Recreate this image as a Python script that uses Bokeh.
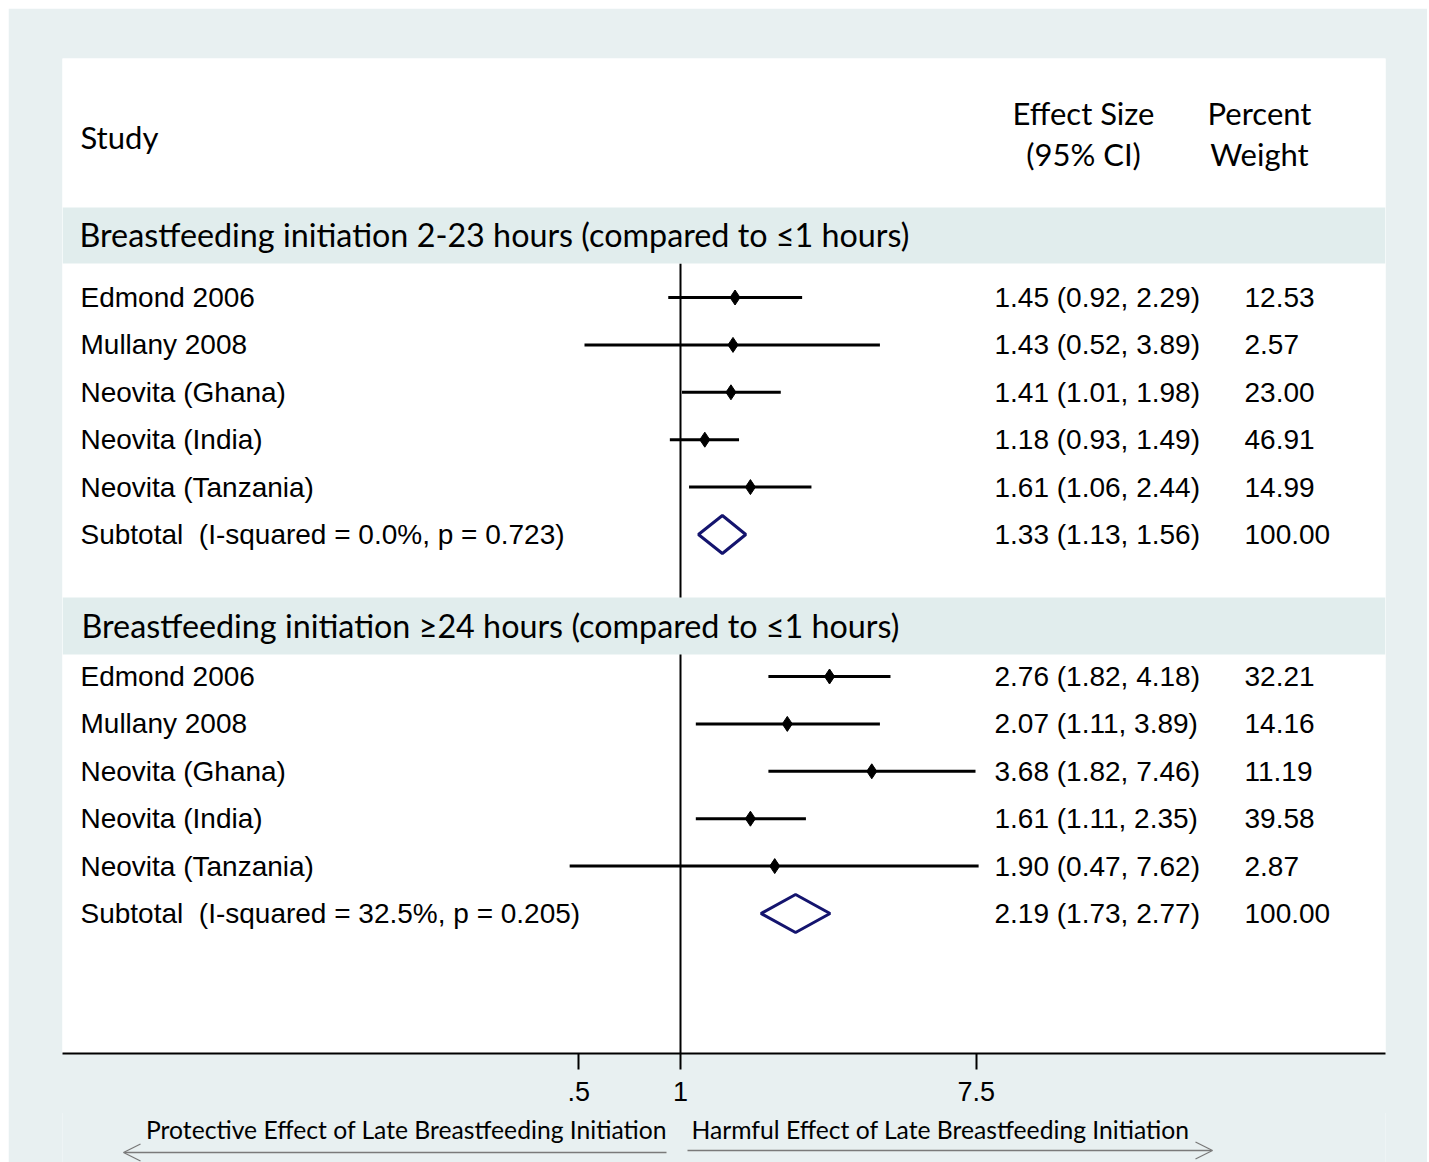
import math
from bokeh.plotting import figure
from bokeh.layouts import column
from bokeh.models import Range1d, FixedTicker, CustomJSTickFormatter, Arrow, OpenHead
from bokeh.core.properties import value
from bokeh.embed import file_html
from bokeh.resources import INLINE

# ---------------- data ----------------
group_titles = ["Breastfeeding initiation 2-23 hours (compared to \u22641 hours)",
                "Breastfeeding initiation \u226524 hours (compared to \u22641 hours)"]
studies = ["Edmond 2006", "Mullany 2008", "Neovita (Ghana)", "Neovita (India)", "Neovita (Tanzania)"]

g1_es = [1.45, 1.43, 1.41, 1.18, 1.61]
g1_lo = [0.92, 0.52, 1.01, 0.93, 1.06]
g1_hi = [2.29, 3.89, 1.98, 1.49, 2.44]
g1_w = [12.53, 2.57, 23.00, 46.91, 14.99]
g1_sub = [1.33, 1.13, 1.56, 100.00]
g1_het = "I-squared = 0.0%, p = 0.723"

g2_es = [2.76, 2.07, 3.68, 1.61, 1.90]
g2_lo = [1.82, 1.11, 1.82, 1.11, 0.47]
g2_hi = [4.18, 3.89, 7.46, 2.35, 7.62]
g2_w = [32.21, 14.16, 11.19, 39.58, 2.87]
g2_sub = [2.19, 1.73, 2.77, 100.00]
g2_het = "I-squared = 32.5%, p = 0.205"

tick_values = [0.5, 1, 7.5]
left_note = "Protective Effect of Late Breastfeeding Initiation"
right_note = "Harmful Effect of Late Breastfeeding Initiation"

# ---------------- layout ----------------
OFF = 8                          # page offset of the figure
W = 1419
ML, MT, MR, MB = 54, 50, 42, 60
FW, FH = W - ML - MR, 995
H = MT + FH + MB
OVER = 1                         # strip overlaps main figure by this many px
H2 = 1162 - (OFF + H) + OVER
PX_LN = 146.8                    # pixels per natural-log unit
X1 = 680 - (OFF + ML)            # frame px where effect = 1
BG = "#e8f0f1"
BAND = "#e1eded"
NAVY = "#14146e"
ARIAL = value("Liberation Sans")
CAL = value("Lato")


def X(px):  # page pixel -> data x on log scale
    return math.exp((px - OFF - ML - X1) / PX_LN)


def Y(py):  # page pixel -> data y
    return (OFF + MT + FH) - py


p = figure(width=W, height=H, x_axis_type="log", output_backend="svg",
           toolbar_location=None, y_axis_location=None,
           x_range=Range1d(X(OFF + ML), X(OFF + ML + FW)), y_range=Range1d(0, FH),
           min_border_left=ML, min_border_right=MR, min_border_top=MT, min_border_bottom=MB)
p.margin = (OFF, 0, 0, OFF)
p.border_fill_color = BG
p.background_fill_color = "white"
p.outline_line_color = None
p.grid.visible = False

ax = p.xaxis[0]
ax.ticker = FixedTicker(ticks=tick_values)
ax.formatter = CustomJSTickFormatter(code="var s = tick.toString(); return tick < 1 ? s.replace(/^0/, '') : s;")
ax.minor_tick_line_color = None
ax.major_tick_in = 0
ax.major_tick_out = 16
ax.major_tick_line_width = 2
ax.axis_line_width = 2
ax.axis_line_color = "black"
ax.major_tick_line_color = "black"
ax.major_label_text_font = "Liberation Sans"
ax.major_label_text_font_size = "27px"
ax.major_label_text_color = "black"
ax.major_label_standoff = 12

groups = [
    (g1_es, g1_lo, g1_hi, g1_w, g1_sub, g1_het, 207, 263, 297),
    (g2_es, g2_lo, g2_hi, g2_w, g2_sub, g2_het, 597, 654, 676),
]
STEP = 47.4

# reference line at 1 (drawn first so the bands cover it)
p.segment(x0=[1], y0=[Y(263)], x1=[1], y1=[0], line_color="black", line_width=2)

# header
p.text(x=[X(80)], y=[Y(136)], text=["Study"], text_font=CAL, text_font_size="31px",
       text_baseline="middle", text_align="left", text_color="black")
p.text(x=[X(1083)] * 2, y=[Y(112), Y(153)], text=["Effect Size", "(95% CI)"], text_font=CAL,
       text_font_size="31px", text_baseline="middle", text_align="center", text_color="black")
p.text(x=[X(1259)] * 2, y=[Y(112), Y(153)], text=["Percent", "Weight"], text_font=CAL,
       text_font_size="31px", text_baseline="middle", text_align="center", text_color="black")

for gi, (es, lo, hi, w, sub, het, btop, bbot, row0) in enumerate(groups):
    p.quad(left=[X(OFF + ML)], right=[X(OFF + ML + FW)], top=[Y(btop)], bottom=[Y(bbot)],
           fill_color=BAND, line_color=None)
    p.text(x=[X(79 + gi * 2)], y=[Y((btop + bbot) / 2 - 1)], text=[group_titles[gi]], text_font=CAL,
           text_font_size="32.3px", text_baseline="middle", text_align="left", text_color="black")
    ys = [Y(row0 + i * STEP) for i in range(len(es))]
    ysub = Y(row0 + len(es) * STEP)
    p.segment(x0=lo, y0=ys, x1=hi, y1=ys, line_color="black", line_width=3)
    p.scatter(x=es, y=ys, marker="diamond", size=15, fill_color="black", line_color="black")
    # pooled diamond
    p.patch(x=[sub[1], sub[0], sub[2], sub[0], sub[1]], y=[ysub, ysub + 19, ysub, ysub - 19, ysub],
            fill_color="white", line_color=NAVY, line_width=3)
    names = studies + ["Subtotal\u00a0\u00a0(" + het + ")"]
    allys = ys + [ysub]
    p.text(x=[X(80)] * len(names), y=allys, text=names, text_font=ARIAL, text_font_size="28px",
           text_baseline="middle", text_align="left", text_color="black")
    es_txt = ["%.2f (%.2f, %.2f)" % (a, b, c) for a, b, c in zip(es + [sub[0]], lo + [sub[1]], hi + [sub[2]])]
    p.text(x=[X(994)] * len(es_txt), y=allys, text=es_txt, text_font=ARIAL, text_font_size="28px",
           text_baseline="middle", text_align="left", text_color="black")
    w_txt = ["%.2f" % v for v in w + [sub[3]]]
    p.text(x=[X(1244)] * len(w_txt), y=allys, text=w_txt, text_font=ARIAL, text_font_size="28px",
           text_baseline="middle", text_align="left", text_color="black")

# ---------------- strip with the direction notes ----------------
# (its frame is aligned with the main frame by the column layout)
top2 = OFF + H - OVER
q = figure(width=W, height=H2, output_backend="svg", toolbar_location=None,
           x_axis_location=None, y_axis_location=None,
           x_range=Range1d(OFF + ML, OFF + ML + FW), y_range=Range1d(top2 + H2, top2),
           min_border=0, min_border_left=0, min_border_right=0, min_border_top=0, min_border_bottom=0)
q.margin = (-OVER, 0, 0, OFF)
q.border_fill_color = BG
q.background_fill_color = BG
q.outline_line_color = None
q.grid.visible = False
q.text(x=[406, 940], y=[1129, 1129], text=[left_note, right_note], text_font=CAL, text_font_size="24.7px",
       text_align="center", text_baseline="middle", text_color="black")
GRAY = "#7a7a7a"
q.add_layout(Arrow(end=OpenHead(size=17, line_color=GRAY, line_width=1.3),
                   x_start=666, y_start=1152, x_end=123, y_end=1152, line_color=GRAY, line_width=1.5))
q.add_layout(Arrow(end=OpenHead(size=17, line_color=GRAY, line_width=1.3),
                   x_start=687, y_start=1150, x_end=1212, y_end=1150, line_color=GRAY, line_width=1.5))

open("out.html", "w").write(file_html(column(p, q, spacing=0), INLINE))
